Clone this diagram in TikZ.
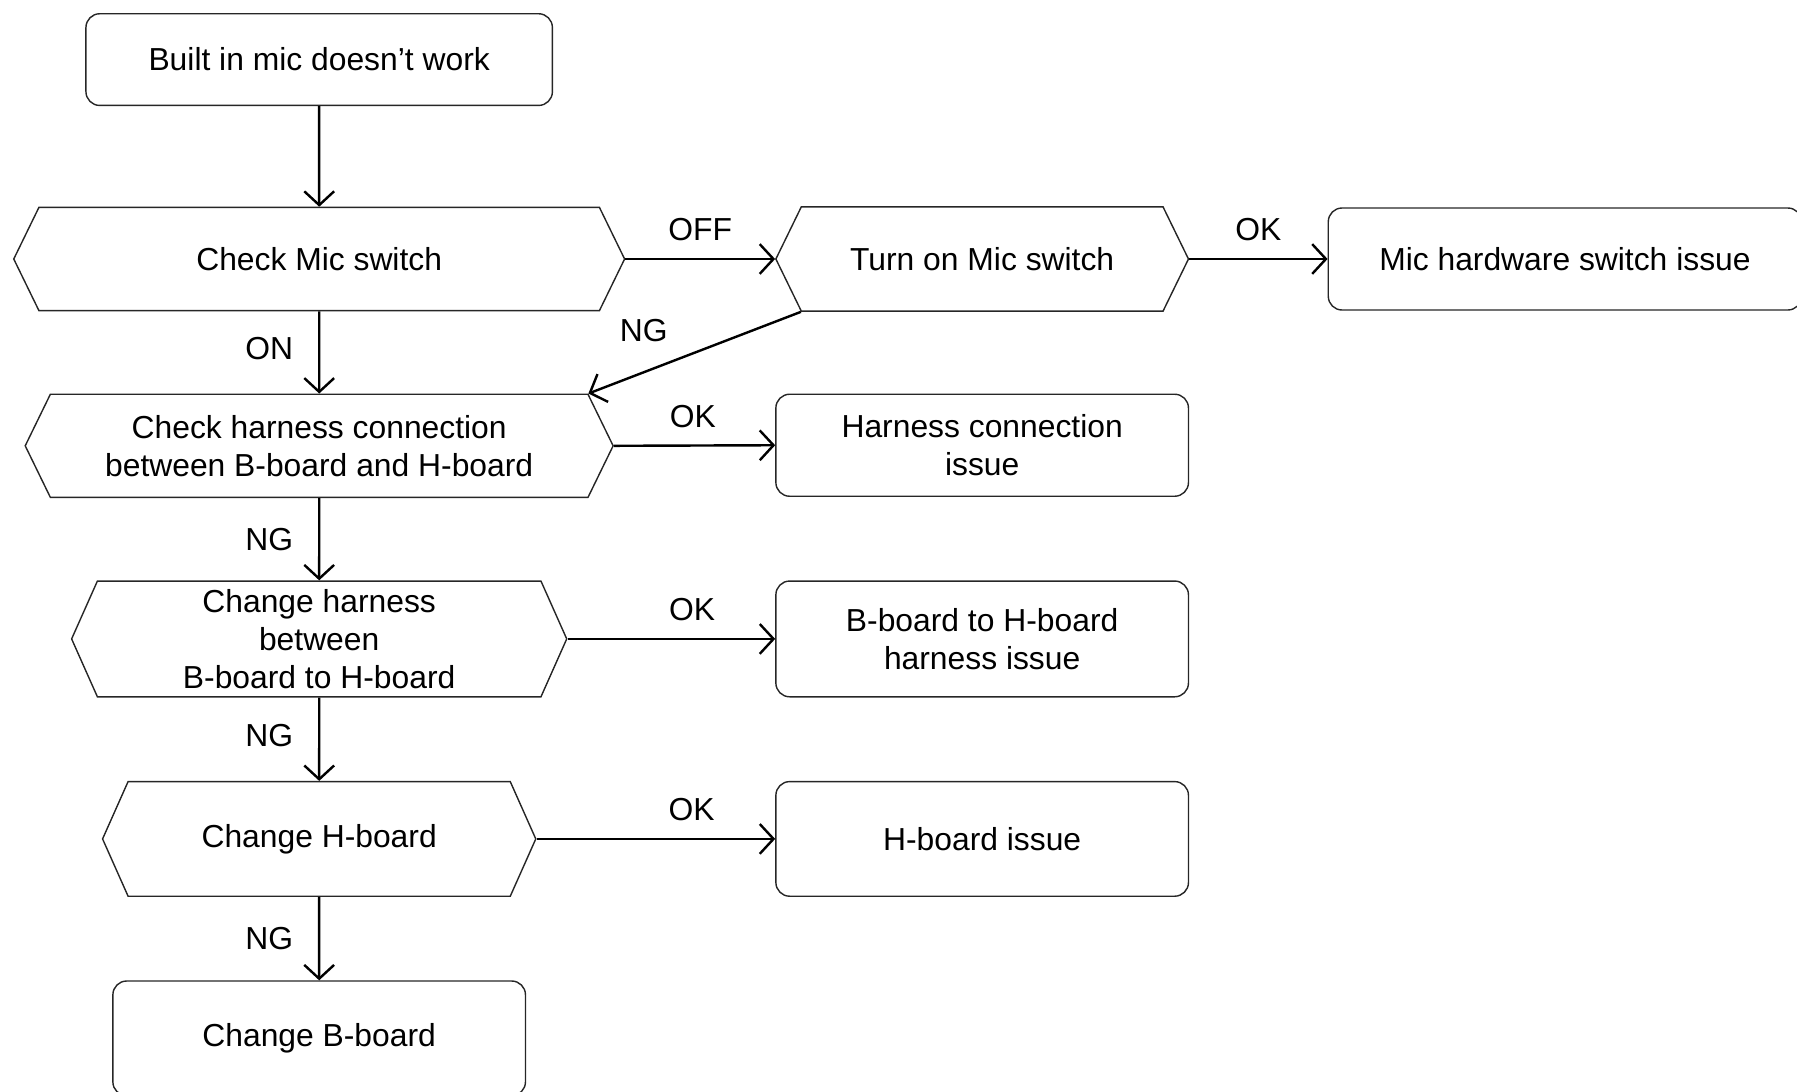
\documentclass[tikz,border=0pt]{standalone}
\usepackage{fontspec}
\setmainfont{Liberation Sans}
\usetikzlibrary{arrows.meta,positioning,shapes.symbols}
\tikzset{
  flow/.style={-{Straight Barb[length=1.2mm,width=2.6mm]},black,line width=0.6pt},
  endbox/.style={draw=black!85,line width=0.35pt,rounded corners=1.2mm,
                 text=black,align=center,font=\fontsize{7.9}{9.4}\selectfont},
  check/.style={signal,signal to=west and east,signal pointer angle=128,
                draw=black!85,line width=0.35pt,text=black,align=center,
                font=\fontsize{7.9}{9.4}\selectfont},
  checktall/.style={check,signal pointer angle=132},
  flowlabel/.style={text=black,font=\fontsize{7.9}{9.4}\selectfont},
}
\begin{document}
\begin{tikzpicture}
  \useasboundingbox (0,0) rectangle (15.68,9.52);

  \node[endbox,minimum width=4.07cm,minimum height=0.80cm] (start) at (2.785,9.00)
    {Built in mic doesn’t work};

  \node[check,minimum width=5.33cm,minimum height=0.90cm] (micsw) at (2.785,7.26)
    {Check Mic switch};
  \node[check,minimum width=3.60cm,minimum height=0.91cm] (turnon) at (8.57,7.26)
    {Turn on Mic switch};
  \node[endbox,minimum width=4.13cm,minimum height=0.89cm] (hwissue) at (13.655,7.26)
    {Mic hardware switch issue};

  \node[check,minimum width=5.13cm,minimum height=0.90cm] (harness) at (2.785,5.63)
    {Check harness connection\\between B-board and H-board};
  \node[endbox,minimum width=3.60cm,minimum height=0.89cm] (harnissue) at (8.57,5.635)
    {Harness connection\\issue};

  \node[checktall,inner ysep=0pt,minimum width=4.32cm,minimum height=1.01cm] (chgharn) at (2.785,3.945)
    {Change harness\\between\\B-board to H-board};
  \node[endbox,minimum width=3.60cm,minimum height=1.01cm] (bhissue) at (8.57,3.945)
    {B-board to H-board\\harness issue};

  \node[checktall,minimum width=3.78cm,minimum height=1.00cm] (chgh) at (2.785,2.20)
    {Change H-board};
  \node[endbox,minimum width=3.60cm,minimum height=1.00cm] (hissue) at (8.57,2.20)
    {H-board issue};

  \node[endbox,minimum width=3.60cm,minimum height=1.00cm] (chgb) at (2.785,0.46)
    {Change B-board};

  % main path down the left
  \draw[flow] (start)--(micsw);
  \draw[flow] (micsw)--node[flowlabel,left=1.0mm,yshift=0.3mm]{ON}(harness);
  \draw[flow] (harness)--node[flowlabel,left=1.0mm]{NG}(chgharn);
  \draw[flow] (chgharn)--node[flowlabel,left=1.0mm,yshift=0.3mm]{NG}(chgh);
  \draw[flow] (chgh)--node[flowlabel,left=1.0mm]{NG}(chgb);

  % results on the right
  \draw[flow] (micsw.east)--node[flowlabel,above=0.3mm]{OFF}(turnon.west);
  \draw[flow] (turnon.east)--node[flowlabel,above=0.3mm]{OK}(hwissue.west);
  \draw[flow] (turnon.south west)--node[flowlabel,pos=0.74,above=1.4mm]{NG}(harness.north east);
  \draw[flow] (harness.east)--node[flowlabel,pos=0.49,above=0.3mm]{OK}(harnissue.west);
  \draw[flow] (chgharn.east)--node[flowlabel,pos=0.6,above=0.3mm]{OK}(bhissue.west);
  \draw[flow] (chgh.east)--node[flowlabel,pos=0.65,above=0.3mm]{OK}(hissue.west);
\end{tikzpicture}
\end{document}
